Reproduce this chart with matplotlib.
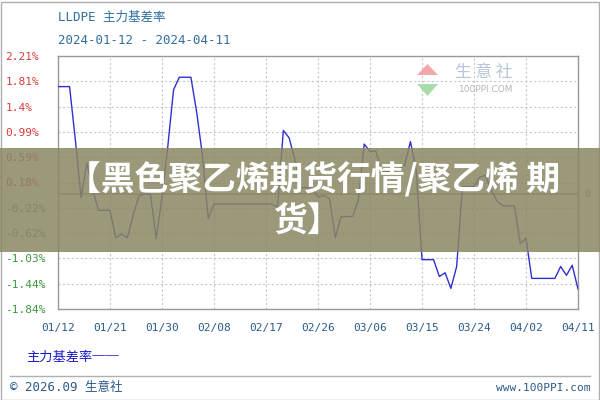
import pandas as pd
import matplotlib
matplotlib.use('Agg')
import matplotlib.pyplot as plt
from matplotlib.patches import Rectangle, Polygon

# Daily basis rate (%), weekends / holidays carry the last value
start_date = '2024-01-12'
end_date = '2024-04-11'
basis_rate = [
    1.72, 1.72, 1.72,                       # Jan 12-14
    0.87, -0.06, 0.50, 0.07,                # Jan 15-18
    -0.26, -0.26, -0.26,                    # Jan 19-21
    -0.70, -0.64, -0.70, -0.34, -0.03,      # Jan 22-26
    0.00, 0.00,                             # Jan 27-28
    -0.71, -0.05, 0.76, 1.67,               # Jan 29-Feb 1
    1.87, 1.87, 1.87,                       # Feb 2-4
    1.31, 0.62, -0.39,                      # Feb 5-7
    -0.16, -0.16, -0.16, -0.16, -0.16, -0.16,
    -0.16, -0.16, -0.16, -0.16, -0.16,      # Feb 8-18
    -0.21, 1.02, 0.90, 0.55,                # Feb 19-22
    0.10, 0.10, 0.10,                       # Feb 23-25
    -0.05, -0.02, -0.08, -0.70,             # Feb 26-29
    -0.36, -0.36, -0.36,                    # Mar 1-3
    -0.08, 0.80, 0.68, 0.69,                # Mar 4-7
    0.36, 0.36, 0.36,                       # Mar 8-10
    0.40, 0.46, 0.84, 0.38,                 # Mar 11-14
    -1.05, -1.05, -1.05,                    # Mar 15-17
    -1.32, -1.26, -1.51, -1.16,             # Mar 18-21
    0.12, 0.12, 0.12,                       # Mar 22-24
    0.27, 0.30, 0.06, -0.11,                # Mar 25-28
    -0.19, -0.19, -0.19,                    # Mar 29-31
    -0.79, -0.71,                           # Apr 1-2
    -1.35, -1.35, -1.35, -1.35, -1.35,      # Apr 3-7
    -1.16, -1.30, -1.14, -1.52,             # Apr 8-11
]
x_tick_labels = ['01/12', '01/21', '01/30', '02/08', '02/17', '02/26',
                 '03/06', '03/15', '03/24', '04/02', '04/11']
y_tick_labels = ['-1.84%', '-1.44%', '-1.03%', '-0.62%', '-0.22%', '0.18%',
                 '0.59%', '0.99%', '1.4%', '1.81%', '2.21%']
y_min, y_max = -1.84, 2.21

dates = pd.date_range(start_date, end_date, freq='D')
df = pd.DataFrame({'date': dates, 'rate': basis_rate})

mono = ['DejaVu Sans Mono', 'Noto Sans CJK SC']
cjk = ['Noto Sans CJK SC', 'DejaVu Sans']

fig = plt.figure(figsize=(6, 4), dpi=100)
ax = fig.add_axes([58 / 600, 1 - 309 / 400, 520 / 600, 253 / 400])

ax.plot(df['date'], df['rate'], color='#3030d0', linewidth=1.0, zorder=3)
ax.axhline(0, color='#a0a0a0', linewidth=1.2, zorder=2)

ax.set_xlim(dates[0], dates[-1])
ax.set_ylim(y_min, y_max)

x_ticks = pd.date_range(start_date, end_date, freq='9D')
ax.set_xticks(x_ticks)
ax.set_xticklabels(x_tick_labels, fontfamily=mono, fontsize=8, color='#2b5a8a')
y_ticks = [y_min + i * (y_max - y_min) / 10 for i in range(11)]
ax.set_yticks(y_ticks)
ax.set_yticklabels(y_tick_labels, fontfamily=mono, fontsize=8, ha='left')
for lbl, txt in zip(ax.get_yticklabels(), y_tick_labels):
    lbl.set_color('#3a9a3a' if txt.startswith('-') else '#d83a3a')
ax.tick_params(axis='y', length=0, pad=38)
ax.tick_params(axis='x', length=0, pad=10)

ax.grid(True, color='#c8c8c8', linestyle=(0, (2, 2)), linewidth=0.8)
for s in ax.spines.values():
    s.set_color('#999999')
    s.set_linewidth(1.0)

# zero label on the right
ax.text(1.012, 0, '0', transform=ax.get_yaxis_transform(), va='center',
        ha='left', fontsize=7, color='#999999', fontfamily=mono)

# titles
fig.text(58 / 600, 1 - 17 / 400, 'LLDPE 主力基差率', fontfamily=mono, fontsize=9,
         color='#2f6f9f', va='center')
fig.text(58 / 600, 1 - 41 / 400, '2024-01-12 - 2024-04-11', fontfamily=mono,
         fontsize=9, color='#2f6f9f', va='center')

# watermark logo
fig.patches.append(Polygon([[417 / 600, 1 - 75 / 400], [438 / 600, 1 - 75 / 400],
                            [427.5 / 600, 1 - 64 / 400]], closed=True,
                           transform=fig.transFigure, facecolor='#f0a8a8',
                           edgecolor='none', zorder=1))
fig.patches.append(Polygon([[417 / 600, 1 - 84 / 400], [438 / 600, 1 - 84 / 400],
                            [427.5 / 600, 1 - 96 / 400]], closed=True,
                           transform=fig.transFigure, facecolor='#a8dca8',
                           edgecolor='none', zorder=1))
fig.text(484 / 600, 1 - 72 / 400, '生 意 社', fontfamily=cjk, fontsize=12,
         color='#b8c4d8', ha='center', va='center', zorder=1)
fig.text(486 / 600, 1 - 89 / 400, '100PPI.COM', fontfamily=['DejaVu Sans'],
         fontsize=6.5, color='#b8b8b8', ha='center', va='center', zorder=1)

# legend text
fig.text(26 / 600, 1 - 357 / 400, '主力基差率──', fontfamily=cjk, fontsize=9.5,
         color='#1a1acc', va='center')

# footer
fig.add_artist(plt.Line2D([10 / 600, 590 / 600], [1 - 376 / 400, 1 - 376 / 400],
                          transform=fig.transFigure, color='#b0b0b0', linewidth=1))
fig.text(10 / 600, 1 - 388 / 400, '© 2026.09 生意社', fontfamily=mono, fontsize=9,
         color='#2b5a8a', va='center')
fig.text(590 / 600, 1 - 388 / 400, 'www.100PPI.com', fontfamily=mono, fontsize=8,
         color='#2b5a8a', va='center', ha='right')

# outer border
fig.patches.append(Rectangle((0.5 / 600, 0.5 / 400), 598.5 / 600, 398 / 400,
                             transform=fig.transFigure, fill=False,
                             edgecolor='#b0b0b0', linewidth=1, zorder=1))

# banner overlay
fig.patches.append(Rectangle((0, 1 - 252 / 400), 1, 104 / 400,
                             transform=fig.transFigure, facecolor='#8a8763',
                             edgecolor='none', alpha=0.85, zorder=5))
fig.text(314 / 600, 1 - 180 / 400, '【黑色聚乙烯期货行情/聚乙烯 期', fontfamily=cjk,
         fontsize=24.3, fontweight='bold', color='white', ha='center', va='center',
         zorder=6)
fig.text(308 / 600, 1 - 221 / 400, '货】', fontfamily=cjk, fontsize=24.3,
         fontweight='bold', color='white', ha='center', va='center', zorder=6)

plt.savefig('out.png', dpi=100)
